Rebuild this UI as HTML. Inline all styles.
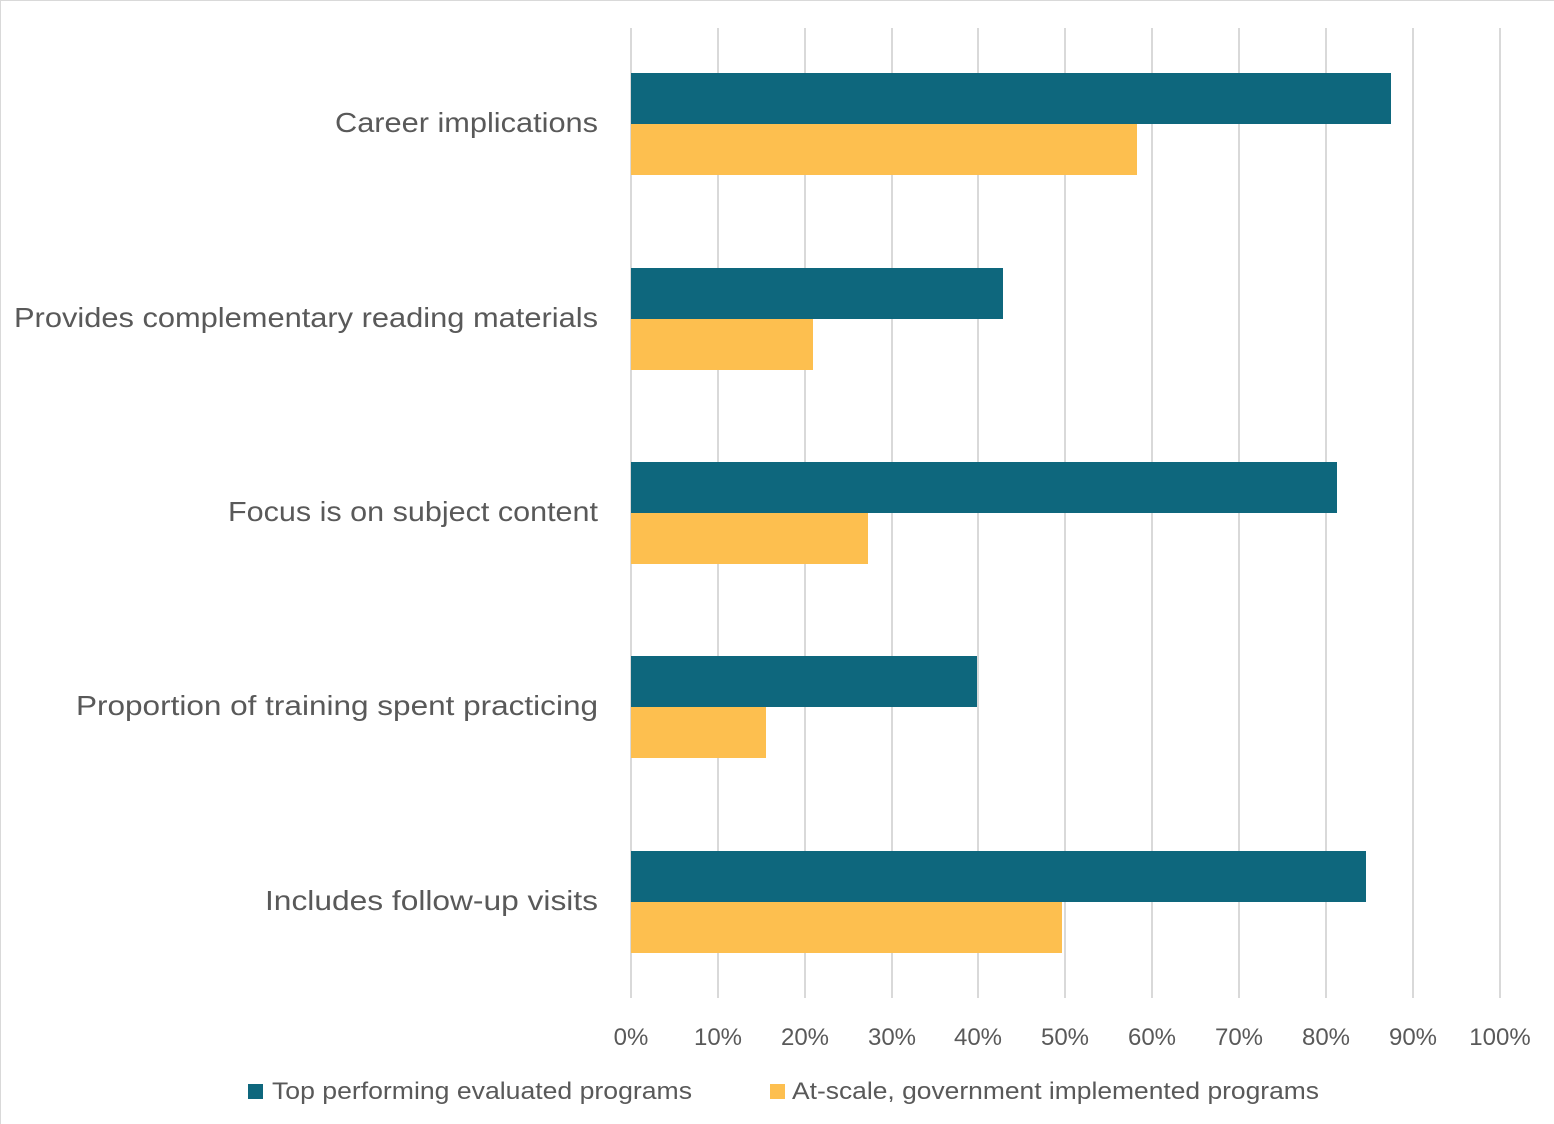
<!DOCTYPE html>
<html><head><style>html,body{margin:0;padding:0;background:#fff}svg{display:block}</style></head><body>
<svg width="1554" height="1124" xmlns="http://www.w3.org/2000/svg" font-family="Liberation Sans, sans-serif" fill="#595959">
<rect x="0.5" y="0.5" width="1560" height="1130" fill="none" stroke="#d9d9d9"/>
<g stroke="#d9d9d9" stroke-width="2">
<line x1="631" y1="28" x2="631" y2="998"/><line x1="718" y1="28" x2="718" y2="998"/><line x1="805" y1="28" x2="805" y2="998"/><line x1="892" y1="28" x2="892" y2="998"/><line x1="978" y1="28" x2="978" y2="998"/><line x1="1065" y1="28" x2="1065" y2="998"/><line x1="1152" y1="28" x2="1152" y2="998"/><line x1="1239" y1="28" x2="1239" y2="998"/><line x1="1326" y1="28" x2="1326" y2="998"/><line x1="1413" y1="28" x2="1413" y2="998"/><line x1="1500" y1="28" x2="1500" y2="998"/>
</g>
<g fill="#0e677d">
<rect x="631" y="73" width="760" height="51"/><rect x="631" y="268" width="372" height="51"/><rect x="631" y="462" width="706" height="51"/><rect x="631" y="656" width="346" height="51"/><rect x="631" y="851" width="735" height="51"/>
</g>
<g fill="#fdbf4f">
<rect x="631" y="124" width="506" height="51"/><rect x="631" y="319" width="182" height="51"/><rect x="631" y="513" width="237" height="51"/><rect x="631" y="707" width="135" height="51"/><rect x="631" y="902" width="431" height="51"/>
</g>
<g font-size="28" text-anchor="end">
<text x="598" y="132" textLength="263" lengthAdjust="spacingAndGlyphs">Career implications</text>
<text x="598" y="327" textLength="584" lengthAdjust="spacingAndGlyphs">Provides complementary reading materials</text>
<text x="598" y="521" textLength="370" lengthAdjust="spacingAndGlyphs">Focus is on subject content</text>
<text x="598" y="715" textLength="522" lengthAdjust="spacingAndGlyphs">Proportion of training spent practicing</text>
<text x="598" y="910" textLength="333" lengthAdjust="spacingAndGlyphs">Includes follow-up visits</text>
</g>
<g font-size="24" text-anchor="middle">
<text x="631" y="1045">0%</text><text x="718" y="1045">10%</text><text x="805" y="1045">20%</text><text x="892" y="1045">30%</text><text x="978" y="1045">40%</text><text x="1065" y="1045">50%</text><text x="1152" y="1045">60%</text><text x="1239" y="1045">70%</text><text x="1326" y="1045">80%</text><text x="1413" y="1045">90%</text><text x="1500" y="1045">100%</text>
</g>
<rect x="248" y="1084" width="15" height="15" fill="#0e677d"/>
<text x="272" y="1099" font-size="24" textLength="420" lengthAdjust="spacingAndGlyphs">Top performing evaluated programs</text>
<rect x="770" y="1084" width="15" height="15" fill="#fdbf4f"/>
<text x="792" y="1099" font-size="24" textLength="527" lengthAdjust="spacingAndGlyphs">At-scale, government implemented programs</text>
</svg>
</body></html>
